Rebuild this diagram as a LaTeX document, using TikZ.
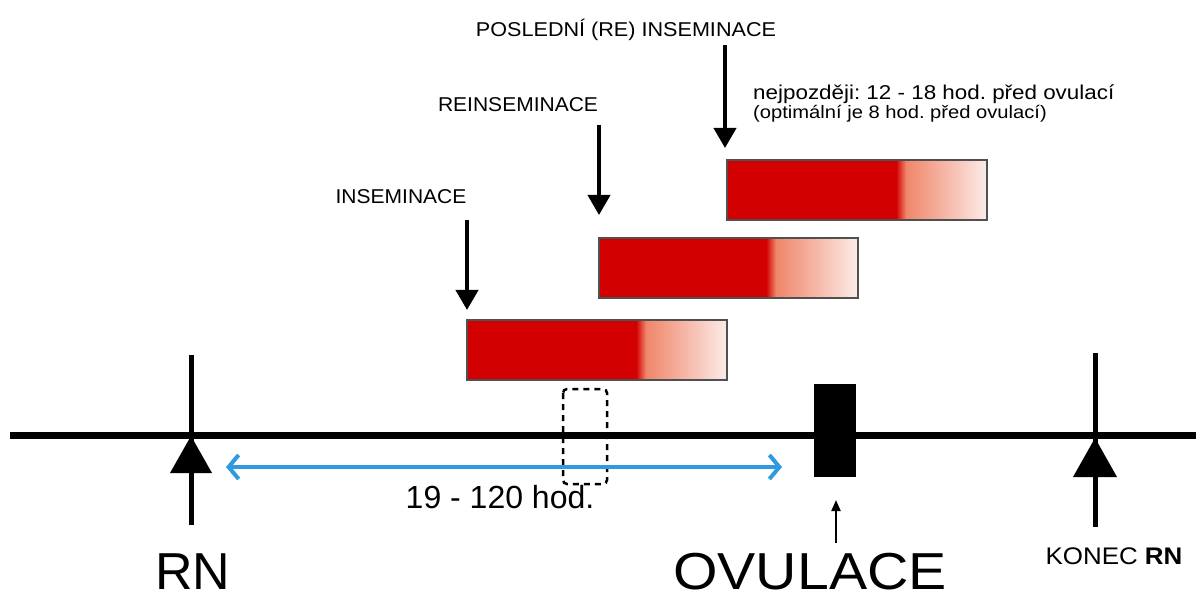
\documentclass[tikz,border=0pt]{standalone}
\usepackage{fontspec}
\setmainfont{Liberation Sans}
\usetikzlibrary{arrows.meta}

\definecolor{barred}{HTML}{D20000}
\definecolor{barsalmon}{HTML}{F0866A}
\definecolor{barpale}{HTML}{FBECE8}
\definecolor{spanblue}{HTML}{2E9BE0}
\definecolor{barborder}{HTML}{505050}

\tikzset{
  axisline/.style={line width=7pt, line cap=butt},
  markerline/.style={line width=5pt},
  markertip/.style={fill=black},
  dose/.style={line width=4pt, -{Triangle[width=22pt,length=20pt]}},
  smallarrow/.style={line width=2pt, -{Triangle[width=9pt,length=11pt]}},
  span/.style={line width=4pt, spanblue, {Straight Barb[length=10pt,width=24pt,line width=4pt]}-{Straight Barb[length=10pt,width=24pt,line width=4pt]}},
  label/.style={inner sep=0pt, font=\fontsize{20}{24}\selectfont},
  note/.style={inner sep=0pt, align=left, font=\fontsize{20}{24}\selectfont\frenchspacing},
  bigtext/.style={inner sep=0pt, font=\fontsize{52}{58}\selectfont},
  bar border/.style={draw=barborder, line width=1.5pt},
  window/.style={draw=black, line width=2.5pt, dash pattern=on 6pt off 5pt, rounded corners=4pt},
}

% a fertile-period bar: left x, top y, end of the solid part, right x
\newcommand{\fertilebar}[4]{%
  \fill[barred] (#1,#2) rectangle (#3,#2+60);
  \shade[left color=barred, right color=barsalmon] (#3-4,#2) rectangle (#3+6,#2+60);
  \shade[left color=barsalmon, right color=barpale] (#3+6,#2) rectangle (#4,#2+60);
  \draw[bar border] (#1,#2) rectangle (#4,#2+60);
}

\begin{document}
\begin{tikzpicture}[x=1pt, y=-1pt]
\useasboundingbox (0,0) rectangle (1196,601);
\fill[white] (0,0) rectangle (1196,601);

% time axis
\coordinate (axisL) at (10,435);
\coordinate (axisR) at (1196,435);
\draw[axisline] (axisL) -- (axisR);

% fertile-period bars
\fertilebar{467}{320}{640}{727}
\fertilebar{599}{238}{770}{858}
\fertilebar{727}{160}{900}{987}

% insemination arrows and their labels
\node[label] (ins) at (401,197) {\scalebox{1.05}[1]{INSEMINACE}};
\coordinate (insA) at (467,220);
\coordinate (insB) at (467,310);
\draw[dose] (insA) -- (insB);

\node[label] (reins) at (518,105) {\scalebox{1.05}[1]{REINSEMINACE}};
\coordinate (reinsA) at (599,125);
\coordinate (reinsB) at (599,215);
\draw[dose] (reinsA) -- (reinsB);

\node[label] (last) at (626,30) {\scalebox{1.08}[1]{POSLEDNÍ (RE) INSEMINACE}};
\coordinate (lastA) at (725,45);
\coordinate (lastB) at (725,148);
\draw[dose] (lastA) -- (lastB);

\node[note, anchor=west] (lastnote) at (753,104)
  {\scalebox{1.12}[1]{nejpozději: 12 - 18 hod. před ovulací}\\[-5pt]%
   \scalebox{1.12}[1]{\fontsize{18}{20}\selectfont (optimální je 8 hod. před ovulací)}};

% dotted window
\draw[window] (563,389) rectangle (607,484);

% start of heat (RN)
\coordinate (rnTop) at (191,355);
\coordinate (rnBot) at (191,525);
\draw[markerline] (rnTop) -- (rnBot);
\fill[markertip] (191,436) -- (212,473) -- (170,473) -- cycle;
\node[bigtext] (rn) at (193,572) {RN};

% end of heat
\coordinate (endTop) at (1095,353);
\coordinate (endBot) at (1095,527);
\draw[markerline] (endTop) -- (endBot);
\fill[markertip] (1095,438) -- (1117,477) -- (1073,477) -- cycle;
\node[inner sep=0pt, font=\fontsize{24}{28}\selectfont] (konec) at (1114,556)
  {\scalebox{1.08}[1]{KONEC \textbf{RN}}};

% ovulation
\node[fill=black, minimum width=42pt, minimum height=93pt, inner sep=0pt]
  (ovblock) at (835,430.5) {};
\coordinate (ovA) at (836,543);
\coordinate (ovB) at (836,500);
\draw[smallarrow] (ovA) -- (ovB);
\node[bigtext] (ov) at (810,572) {\scalebox{1.1}[1]{OVULACE}};

% interval from start of heat to ovulation
\coordinate (spanL) at (226,467);
\coordinate (spanR) at (782,467);
\draw[span] (spanL) -- (spanR);
\node[inner sep=0pt, font=\fontsize{32}{36}\selectfont] (hours) at (500,497) {19 - 120 hod.};

\end{tikzpicture}
\end{document}
